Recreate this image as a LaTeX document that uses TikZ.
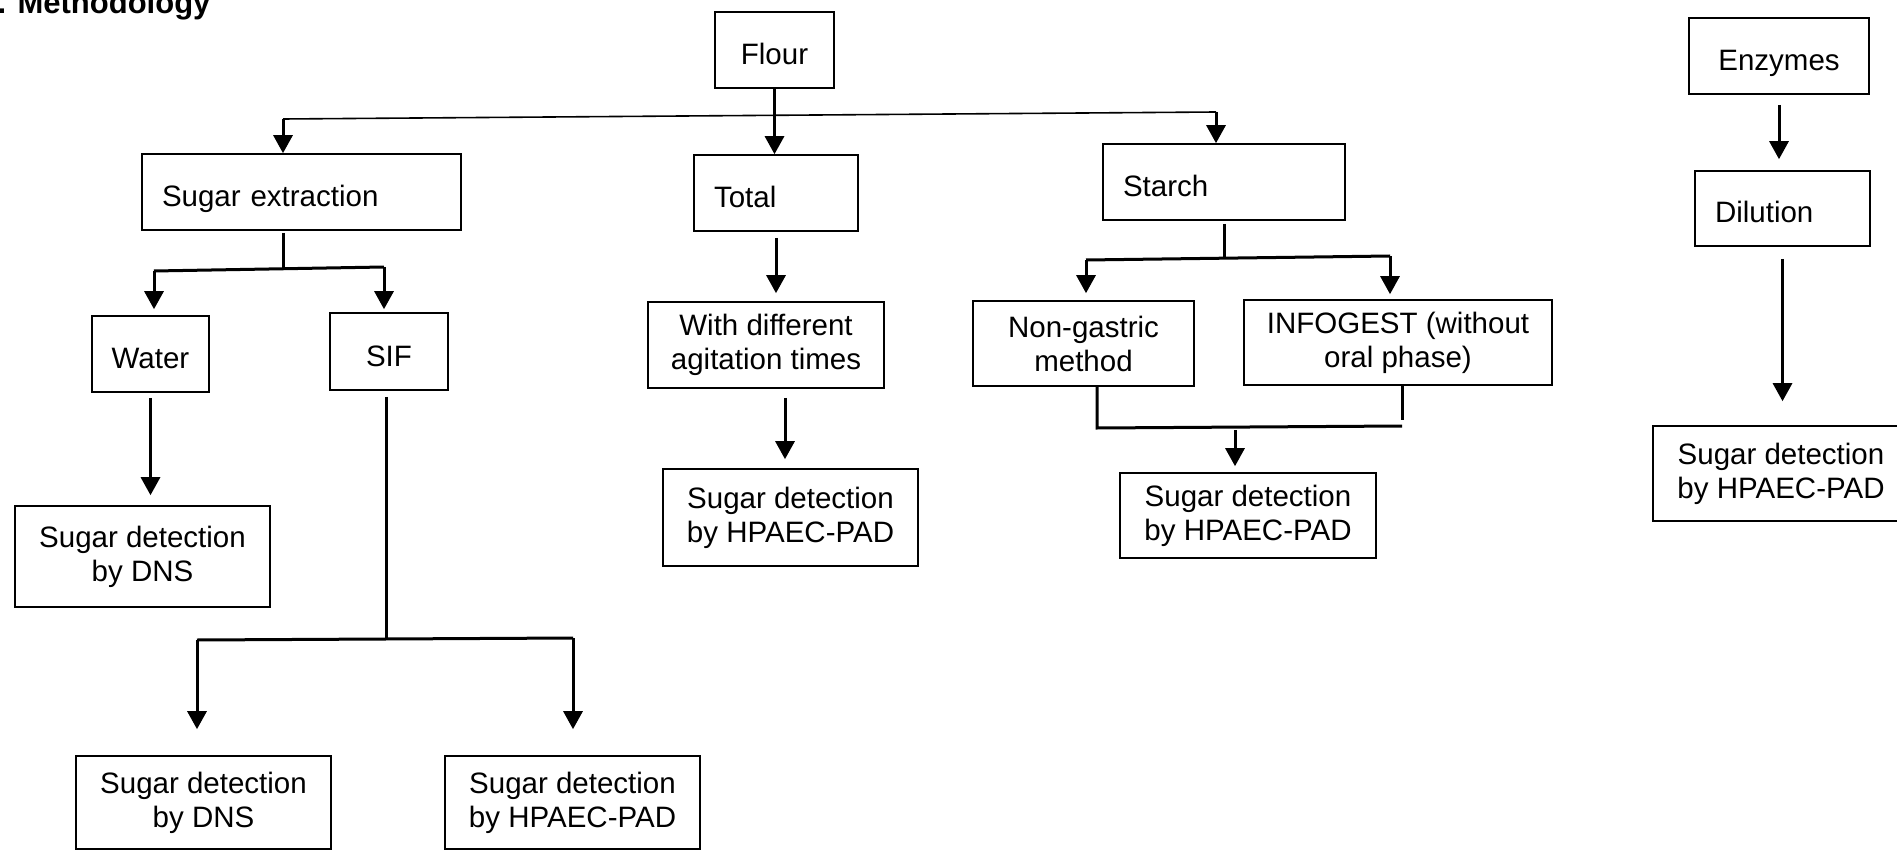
\documentclass[tikz,border=0pt]{standalone}
\usepackage{fontspec}
\setmainfont{Liberation Sans}
\usetikzlibrary{arrows.meta,positioning,calc}

\tikzset{
  box/.style 2 args={draw, line width=1.6pt, align=center, inner sep=0pt,
    minimum width=#1, minimum height=#2, font=\fontsize{29.5}{34}\selectfont},
  one/.style={text height=29pt, text depth=0pt},
  lbox/.style 2 args={box={0pt}{#2}, one, align=left, inner xsep=20pt, text width=#1},
  arr/.style={line width=3pt, -{Triangle[length=18pt,width=19pt]}},
  link/.style={line width=3pt},
  thinlink/.style={line width=1.6pt}
}

\begin{document}
\begin{tikzpicture}[x=1pt,y=-1pt]
\useasboundingbox (0,0) rectangle (1897,850);

\node[anchor=base east, font=\fontsize{31}{36}\selectfont\bfseries] (title) at (214,14) {. Methodology};

% top row
\node[box={119pt}{76pt}, one] (flour) at (774.5,50) {Flour};
\node[box={180pt}{76pt}, one] (enzymes) at (1779,56) {Enzymes};

% second row
\node[lbox={279pt}{76pt}] (extract) at (301.5,192) {Sugar extraction};
\node[lbox={124pt}{76pt}] (total) at (776,193) {Total};
\node[lbox={202pt}{76pt}] (starch) at (1224,182) {Starch};
\node[lbox={135pt}{75pt}] (dilution) at (1782.5,208.5) {Dilution};

% third row
\node[box={117pt}{76pt}, one] (water) at (150.5,354) {Water};
\node[box={118pt}{77pt}, one] (sif) at (389,351.5) {SIF};
\node[box={236pt}{86pt}] (agit) at (766,345) {With different\\agitation times};
\node[box={221pt}{85pt}] (nongas) at (1083.5,343.5) {Non-gastric\\method};
\node[box={308pt}{85pt}] (infogest) at (1398,342.5) {INFOGEST (without\\oral phase)};

% detection boxes
\node[box={255pt}{101pt}] (dnsA) at (142.5,556.5) {Sugar detection\\by DNS};
\node[box={255pt}{97pt}] (hpaecT) at (790.5,517.5) {Sugar detection\\by HPAEC-PAD};
\node[box={256pt}{85pt}] (hpaecS) at (1248,515.5) {Sugar detection\\by HPAEC-PAD};
\node[box={256pt}{95pt}] (hpaecE) at (1781,473.5) {Sugar detection\\by HPAEC-PAD};
\node[box={255pt}{93pt}] (dnsB) at (203.5,802.5) {Sugar detection\\by DNS};
\node[box={255pt}{93pt}] (hpaecB) at (572.5,802.5) {Sugar detection\\by HPAEC-PAD};

% flour split
\coordinate (tl) at (283,119);
\coordinate (tr) at (1216,112);
\draw[thinlink] (tl) -- (tr);
\draw[arr] (tl) -- (tl |- extract.north);
\draw[arr] (tr) -- (tr |- starch.north);
\draw[arr] (flour.south) -- (flour.south |- total.north);

% sugar extraction
\coordinate (ex) at (283,269);
\coordinate (ea) at (154,271);
\coordinate (eb) at (384,267);
\draw[link, shorten <=2pt] (ex |- extract.south) -- (ex);
\draw[link] (ea) -- (eb);
\draw[arr, shorten >=6pt] (ea) -- (ea |- water.north);
\draw[arr, shorten >=3pt] (eb) -- (eb |- sif.north);
\draw[arr, shorten <=5pt, shorten >=10pt] (water.south) -- (water.south |- dnsA.north);

% SIF
\coordinate (sj) at (386,638);
\coordinate (sa) at (197,640);
\coordinate (sb) at (573,638);
\draw[link, shorten <=6pt] (sj |- sif.south) -- (sj);
\draw[link] (sa) -- (sb);
\draw[arr, shorten >=26pt] (sa) -- (sa |- dnsB.north);
\draw[arr, shorten >=26pt] (sb) -- (sb |- hpaecB.north);

% total
\coordinate (ah) at ([xshift=19pt]agit.south);
\draw[arr, shorten <=6pt, shorten >=8pt] (total.south) -- (total.south |- agit.north);
\draw[arr, shorten <=9pt, shorten >=9pt] (ah) -- (ah |- hpaecT.north);

% starch
\coordinate (st) at (1224,258);
\coordinate (sl) at (1086,260);
\coordinate (sr) at (1390,256);
\draw[link, shorten <=3pt] (starch.south) -- (st);
\draw[link] (sl) -- (sr);
\draw[arr, shorten >=7pt] (sl) -- (sl |- nongas.north);
\draw[arr, shorten >=5pt] (sr) -- (sr |- infogest.north);

% merge
\coordinate (ma) at (1097,428);
\coordinate (mb) at (1402,426);
\coordinate (mc) at (1235,430);
\draw[link] (ma |- nongas.south) -- (ma) -- (mb);
\draw[link] (mb |- infogest.south) -- ([yshift=6pt]mb);
\draw[arr, shorten >=6pt] (mc) -- (mc |- hpaecS.north);

% enzymes
\draw[arr, shorten <=10pt, shorten >=11pt] (enzymes.south) -- (enzymes.south |- dilution.north);
\draw[arr, shorten <=12pt, shorten >=24pt] (dilution.south) -- (dilution.south |- hpaecE.north);
\end{tikzpicture}
\end{document}
